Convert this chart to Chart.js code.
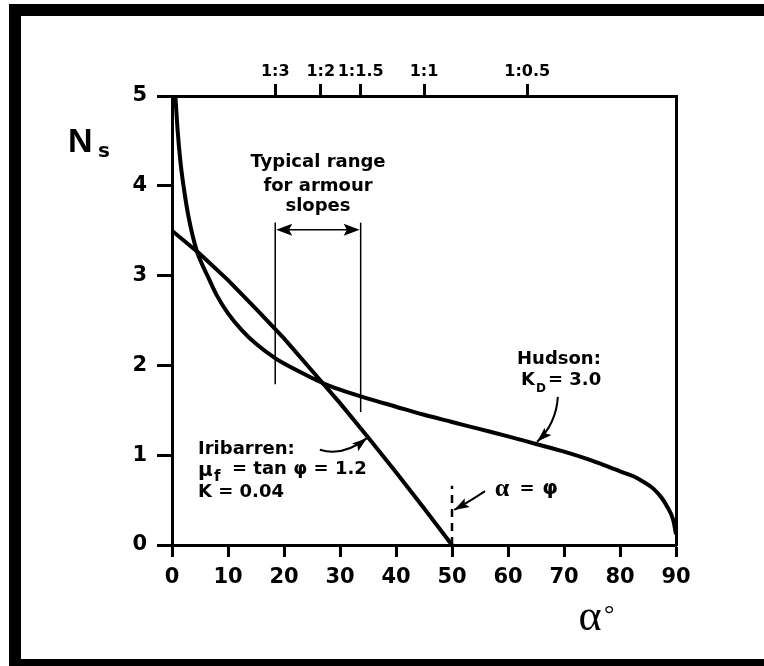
<!DOCTYPE html>
<html>
<head>
<meta charset="utf-8">
<script src="https://cdn.jsdelivr.net/npm/chart.js@4.4.0/dist/chart.umd.min.js"></script>
<style>
  html, body { margin: 0; padding: 0; background: #fff; }
  canvas { display: block; }
</style>
</head>
<body>
<canvas id="chart" width="764" height="666"></canvas>
<script>
// Hudson, K_D = 3.0
const hudsonAlpha = [0.6, 1.0, 1.5, 2.1, 3.0, 4.4, 6.4, 8, 10, 12.5, 15, 18.4, 20, 25, 27, 30, 35, 40, 45, 50, 55, 60, 65, 70, 75, 80, 82.4, 84, 86, 87.5, 88.3, 89.5, 90];
const hudsonNs    = [5.0, 4.62, 4.27, 3.98, 3.64, 3.28, 2.99, 2.78, 2.58, 2.39, 2.24, 2.08, 2.02, 1.86, 1.80, 1.73, 1.63, 1.54, 1.45, 1.37, 1.29, 1.21, 1.125, 1.04, 0.94, 0.82, 0.765, 0.71, 0.625, 0.52, 0.44, 0.28, 0.12];

// Iribarren, mu_f = tan phi = 1.2, K = 0.04
const iribarrenAlpha = [0, 5, 10, 15, 20, 25, 30, 35, 40, 45, 50];
const iribarrenNs    = [3.5, 3.24, 2.95, 2.63, 2.3, 1.94, 1.58, 1.2, 0.81, 0.41, 0.0];

// slope scale along the top
const slopeLabels = ['1:3', '1:2', '1:1.5', '1:1', '1:0.5'];
const slopeAngles = [18.43, 26.57, 33.69, 45, 63.43];

// typical range for armour slopes
const rangeAlpha  = [18.43, 33.69];
const rangeBottom = [1.79, 1.48];
const rangeTop    = 3.59;
const rangeArrowNs = 3.51;

// alpha = phi marker
const phiAlpha = 50;
const phiTop   = 0.66;

const toPoints = (xs, ys) => xs.map((x, i) => ({ x: x, y: ys[i] }));

const tickFont = { family: 'DejaVu Sans', size: 21, weight: 'bold' };

const annotations = {
    id: 'annotations',
    beforeDraw(chart) {
        const ctx = chart.ctx;
        ctx.save();
        ctx.fillStyle = '#fff';
        ctx.fillRect(0, 0, chart.width, chart.height);
        // black frame (top, left, bottom)
        ctx.fillStyle = '#000';
        ctx.fillRect(9, 4, 755, 12);
        ctx.fillRect(9, 4, 12, 662);
        ctx.fillRect(9, 659, 755, 7);
        ctx.restore();
    },
    afterDraw(chart) {
        const ctx = chart.ctx;
        const xs = chart.scales.x, ys = chart.scales.y;
        const px = v => xs.getPixelForValue(v);
        const py = v => ys.getPixelForValue(v);

        ctx.save();
        ctx.fillStyle = '#000';
        ctx.strokeStyle = '#000';

        function text(str, x, y, font, align, base) {
            ctx.font = font;
            ctx.textAlign = align || 'left';
            ctx.textBaseline = base || 'middle';
            ctx.fillText(str, x, y);
        }
        function head(tx, ty, ang, len, half) {
            const c = Math.cos(ang), s = Math.sin(ang);
            ctx.beginPath();
            ctx.moveTo(tx, ty);
            ctx.lineTo(tx - len * c + half * s, ty - len * s - half * c);
            ctx.lineTo(tx - len * 0.8 * c, ty - len * 0.8 * s);
            ctx.lineTo(tx - len * c - half * s, ty - len * s + half * c);
            ctx.closePath();
            ctx.fill();
        }
        function callout(from, ctrl, to) {
            const x0 = px(from[0]), y0 = py(from[1]);
            const cx = px(ctrl[0]), cy = py(ctrl[1]);
            const x1 = px(to[0]), y1 = py(to[1]);
            ctx.lineWidth = 2;
            ctx.beginPath();
            ctx.moveTo(x0, y0);
            ctx.quadraticCurveTo(cx, cy, x1, y1);
            ctx.stroke();
            head(x1, y1, Math.atan2(y1 - cy, x1 - cx), 15, 5);
        }

        // double arrow between the range lines
        const ay = py(rangeArrowNs);
        ctx.lineWidth = 1.5;
        ctx.beginPath();
        ctx.moveTo(px(rangeAlpha[0]) + 8, ay);
        ctx.lineTo(px(rangeAlpha[1]) - 8, ay);
        ctx.stroke();
        head(px(rangeAlpha[0]) + 1, ay, Math.PI, 16, 6);
        head(px(rangeAlpha[1]) - 1, ay, 0, 16, 6);

        // callout arrows
        callout([68.9, 1.65], [68.6, 1.35], [65.2, 1.15]);
        callout([26.4, 1.06], [30.5, 0.98], [34.8, 1.19]);
        callout([55.9, 0.6], [53.5, 0.5], [50.4, 0.39]);

        const f18 = 'bold 18px "DejaVu Sans"';

        // axis names
        text('N', 68, 152, 'bold 34px "Liberation Sans"', 'left', 'alphabetic');
        text('s', 98, 157, 'bold 20px "DejaVu Sans"', 'left', 'alphabetic');
        text('α', 590, 618, '44px "Liberation Serif"', 'center');
        text('°', 604, 622, '26px "Liberation Serif"', 'left', 'alphabetic');

        // typical range
        text('Typical range', 318, 162, f18, 'center');
        text('for armour', 318, 186, f18, 'center');
        text('slopes', 318, 206, f18, 'center');

        // Hudson
        text('Hudson:', 517, 359, f18);
        text('K', 521, 380, f18);
        text('D', 536, 389, 'bold 12px "DejaVu Sans"');
        text('= 3.0', 548, 380, f18);

        // Iribarren
        text('Iribarren:', 198, 449, f18);
        text('μ', 198, 471, 'bold 20px "DejaVu Sans"');
        text('f', 214, 477, 'bold 15px "DejaVu Sans"');
        text('= tan φ = 1.2', 232, 469, f18);
        text('K = 0.04', 198, 492, f18);

        // alpha = phi
        text('α', 502, 489, 'bold 26px "Liberation Serif"', 'center');
        text('=', 527, 489, f18, 'center');
        text('φ', 550, 489, 'bold 20px "DejaVu Sans"', 'center');

        ctx.restore();
    }
};

new Chart(document.getElementById('chart'), {
    type: 'scatter',
    data: {
        datasets: [
            {
                label: 'Hudson',
                data: toPoints(hudsonAlpha, hudsonNs),
                showLine: true,
                borderColor: '#000',
                borderWidth: 4,
                cubicInterpolationMode: 'monotone',
                pointRadius: 0
            },
            {
                label: 'Iribarren',
                data: toPoints(iribarrenAlpha, iribarrenNs),
                showLine: true,
                borderColor: '#000',
                borderWidth: 4,
                pointRadius: 0
            },
            {
                label: 'range low',
                data: [{ x: rangeAlpha[0], y: rangeBottom[0] }, { x: rangeAlpha[0], y: rangeTop }],
                showLine: true,
                borderColor: '#000',
                borderWidth: 1.5,
                pointRadius: 0
            },
            {
                label: 'range high',
                data: [{ x: rangeAlpha[1], y: rangeBottom[1] }, { x: rangeAlpha[1], y: rangeTop }],
                showLine: true,
                borderColor: '#000',
                borderWidth: 1.5,
                pointRadius: 0
            },
            {
                label: 'alpha = phi',
                data: [{ x: phiAlpha, y: 0 }, { x: phiAlpha, y: phiTop }],
                showLine: true,
                borderColor: '#000',
                borderWidth: 2.5,
                borderDash: [8, 6],
                pointRadius: 0
            }
        ]
    },
    options: {
        responsive: false,
        animation: false,
        devicePixelRatio: 1,
        layout: { padding: { left: 0, right: 88, top: 0, bottom: 0 } },
        plugins: { legend: { display: false }, tooltip: { enabled: false } },
        scales: {
            x: {
                type: 'linear',
                position: 'bottom',
                min: 0, max: 90,
                afterFit: s => { s.height = 121; },
                ticks: { stepSize: 10, color: '#000', font: tickFont, padding: 8, maxRotation: 0, autoSkip: false },
                grid: { drawOnChartArea: false, tickLength: 12, tickWidth: 3, tickColor: '#000', color: '#000' },
                border: { color: '#000', width: 3 }
            },
            x2: {
                type: 'linear',
                position: 'top',
                min: 0, max: 90,
                afterFit: s => { s.height = 96; },
                afterBuildTicks: s => { s.ticks = slopeAngles.map(v => ({ value: v })); },
                ticks: {
                    color: '#000',
                    font: { family: 'DejaVu Sans', size: 16, weight: 'bold' },
                    padding: 3, maxRotation: 0, autoSkip: false,
                    callback: (v, i) => slopeLabels[i]
                },
                grid: { drawOnChartArea: false, tickLength: 12, tickWidth: 3, tickColor: '#000', color: '#000' },
                border: { color: '#000', width: 3 }
            },
            y: {
                type: 'linear',
                position: 'left',
                min: 0, max: 5,
                afterFit: s => { s.width = 172; },
                ticks: { stepSize: 1, color: '#000', font: tickFont, padding: 10 },
                grid: { drawOnChartArea: false, tickLength: 15, tickWidth: 3, tickColor: '#000', color: '#000' },
                border: { color: '#000', width: 3 }
            },
            y2: {
                type: 'linear',
                position: 'right',
                min: 0, max: 5,
                afterFit: s => { s.width = 0; },
                ticks: { display: false },
                grid: { display: false },
                border: { color: '#000', width: 3 }
            }
        }
    },
    plugins: [annotations]
});
</script>
</body>
</html>
